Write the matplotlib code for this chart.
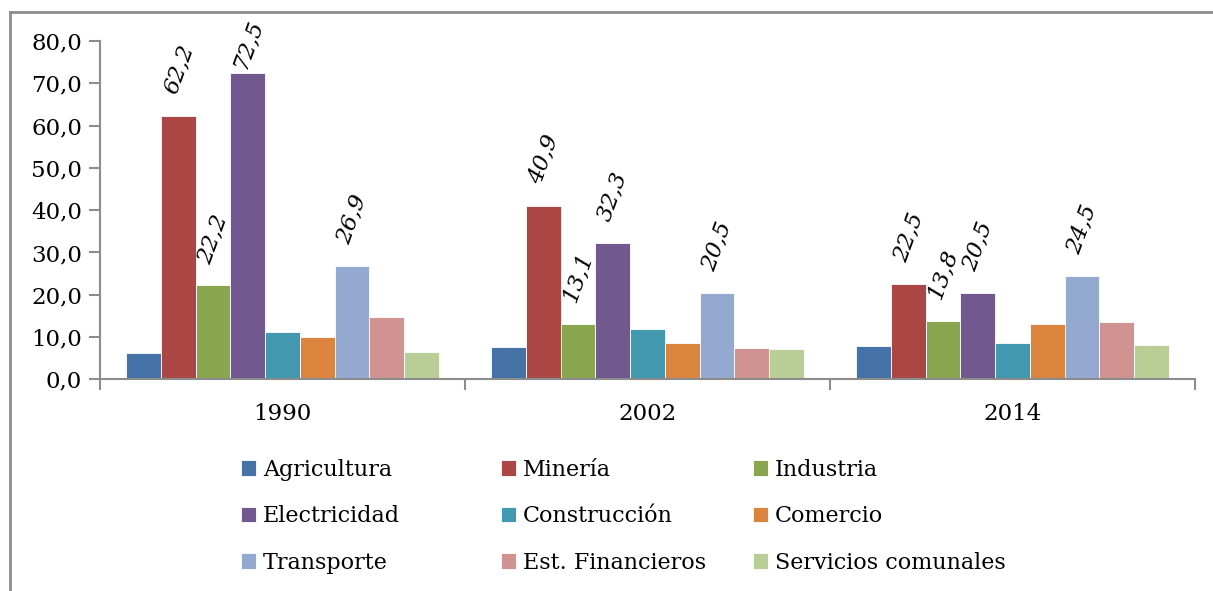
import matplotlib.pyplot as plt
from matplotlib.lines import Line2D
import numpy as np

plt.rcParams['font.family'] = ['DejaVu Serif']

years = ['1990', '2002', '2014']
sectors = ['Agricultura', 'Minería', 'Industria', 'Electricidad', 'Construcción',
           'Comercio', 'Transporte', 'Est. Financieros', 'Servicios comunales']
colors = ['#4572A7', '#AA4643', '#89A54E', '#71588F', '#4198AF',
          '#DB843D', '#93A9CF', '#D19392', '#B9CD96']

# values per sector, one per year
agricultura = [6.2, 7.6, 7.9]
mineria = [62.2, 40.9, 22.5]
industria = [22.2, 13.1, 13.8]
electricidad = [72.5, 32.3, 20.5]
construccion = [11.1, 11.9, 8.6]
comercio = [9.9, 8.5, 13.0]
transporte = [26.9, 20.5, 24.5]
est_financieros = [14.8, 7.5, 13.6]
servicios = [6.5, 7.1, 8.0]
series = [agricultura, mineria, industria, electricidad, construccion,
          comercio, transporte, est_financieros, servicios]
labelled = ['Minería', 'Industria', 'Electricidad', 'Transporte']

fig = plt.figure(figsize=(12.13, 5.91), dpi=100)
ax = fig.add_axes([100/1213, 1-379.3/591, 1095/1213, 338.3/591])

n = len(sectors)
w = 0.855 / n
x = np.arange(len(years))
grey = '#8c8c8c'
for i, (name, vals) in enumerate(zip(sectors, series)):
    pos = x - 0.855/2 + w*(i + 0.5)
    ax.bar(pos, vals, w, color=colors[i], edgecolor='white', linewidth=0.6, label=name)
    if name in labelled:
        for p, v in zip(pos, vals):
            yb = min(v + 4.5, 72.6)
            ax.text(p, yb, f'{v:.1f}'.replace('.', ','), rotation=70,
                    ha='center', va='bottom', fontsize=16.5, style='italic')

ax.set_xlim(-0.5, len(years) - 0.5)
ax.set_ylim(0, 80)
ax.set_yticks(np.arange(0, 81, 10))
ax.set_yticklabels([f'{t:.1f}'.replace('.', ',') for t in np.arange(0, 81, 10)])
ax.set_xticks(x)
ax.set_xticklabels(years)
ax.set_xticks(np.arange(-0.5, len(years), 1), minor=True)
ax.tick_params(axis='x', which='major', length=0, labelsize=16.5, pad=17)
ax.tick_params(axis='x', which='minor', length=8, color=grey, width=1.5, direction='out')
ax.tick_params(axis='y', length=8, color=grey, width=1.5, labelsize=16.5, pad=5)
for s in ['top', 'right']:
    ax.spines[s].set_visible(False)
for s in ['left', 'bottom']:
    ax.spines[s].set_color(grey)
    ax.spines[s].set_linewidth(1.5)
ax.set_axisbelow(True)

# outer chart frame (left and top edges visible)
fig.add_artist(Line2D([10/1213, 10/1213], [0, 1-12/591], color=grey, lw=2, transform=fig.transFigure))
fig.add_artist(Line2D([10/1213, 1], [1-12/591, 1-12/591], color=grey, lw=2, transform=fig.transFigure))

# legend: three columns, filled row by row
handles, labels = ax.get_legend_handles_labels()
col_x = [232/1213, 492/1213, 744/1213]
for c in range(3):
    idx = [c, c+3, c+6]
    fig.legend([handles[k] for k in idx], [labels[k] for k in idx],
               loc='upper left', bbox_to_anchor=(col_x[c], 1-450/591),
               frameon=False, fontsize=16, handlelength=0.7, handleheight=0.7,
               handletextpad=0.3, labelspacing=1.1, borderaxespad=0)

fig.savefig('out.png', dpi=100)
